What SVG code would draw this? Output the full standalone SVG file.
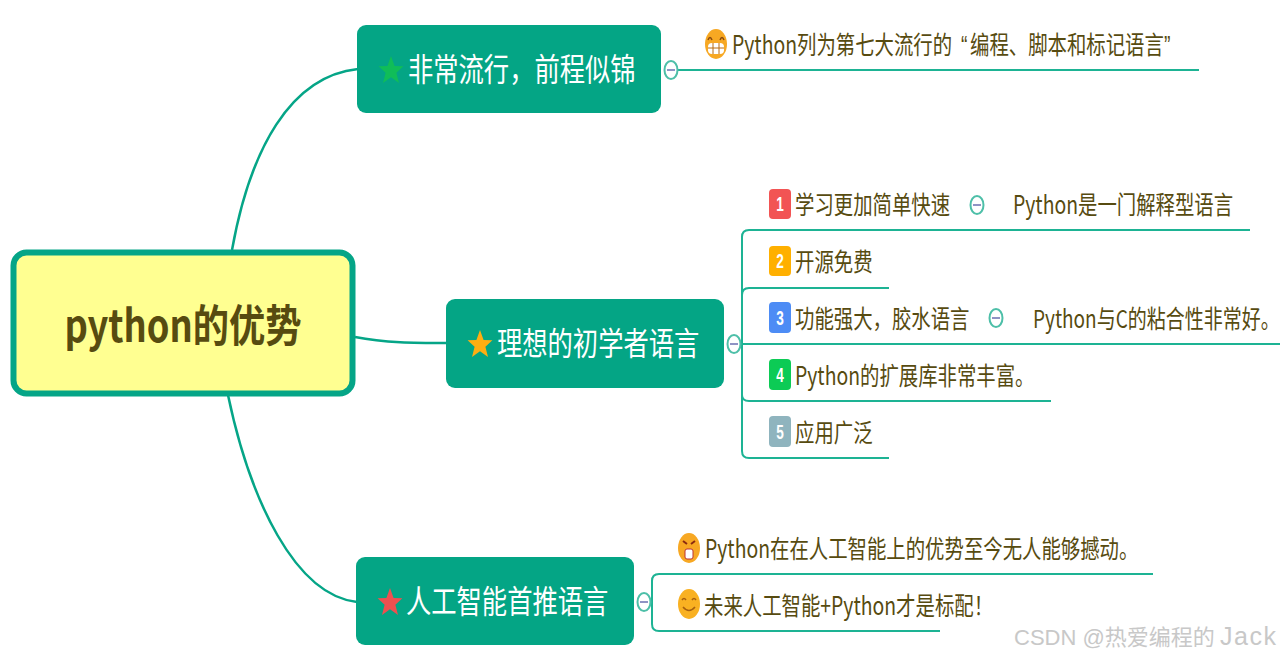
<svg xmlns="http://www.w3.org/2000/svg" width="1280" height="658" viewBox="0 0 1280 658">
<defs>
<path id="star" d="M0 -15L3.600 -5 12.400 -4.800 5.400 1.800 8 12 0 6.200 -8 12 -5.400 1.800 -12.400 -4.800 -3.600 -5Z"/>
</defs>
<style>
text{font-family:"Noto Sans CJK SC","Liberation Sans",sans-serif}
.l{fill:none;stroke:#1db394;stroke-width:2}
.b{fill:none;stroke:#05a587;stroke-width:2.500}
.box{fill:#04a585}
.t{font-size:19.400px;fill:#574b10}
.m{font-size:25.300px;fill:#fff}
.c{fill:#fff;stroke:#4dbfa8;stroke-width:2}
.d{stroke:#8f93c4;stroke-width:2}
.n{font-size:17px;font-weight:bold;fill:#fff;text-anchor:middle;font-family:"Liberation Sans",sans-serif}
</style>
<rect width="1280" height="658" fill="#fff"/>
<g id="connectors">
<path class="b" d="M232 250C250 150 290 76 358 69"/>
<path class="b" d="M355 337C385 343 415 343 447 343"/>
<path class="b" d="M228 395C250 500 295 595 357 602"/>
<path class="l" d="M677 70H1199"/>
<path class="l" d="M735 344H1280M742 344V237Q742 230 749 230H1250M742 295Q742 288 749 288H889M742 344V451Q742 458 749 458H889M742 395Q742 401 749 401H1051"/>
<path class="l" d="M650 602H652V581Q652 574 659 574H1153M652 602V624Q652 631 659 631H940"/>
</g>
<g id="root"><rect x="13.500" y="252.500" width="339" height="141" rx="13" fill="#ffff91" stroke="#05a587" stroke-width="6"/><text x="183" y="342" font-size="44" font-weight="bold" text-anchor="middle" fill="#574b10" textLength="237" lengthAdjust="spacingAndGlyphs">python的优势</text></g>
<g id="node-popular"><rect class="box" x="357" y="25" width="304" height="88" rx="9"/><use href="#star" x="391" y="71" fill="#10bd58"/><text class="m" transform="translate(408 81) scale(1 1.250)">非常流行，前程似锦</text></g>
<g id="node-beginner"><rect class="box" x="446" y="299" width="278" height="89" rx="9"/><use href="#star" x="480" y="345" fill="#ffae12"/><text class="m" transform="translate(497 355) scale(1 1.250)">理想的初学者语言</text></g>
<g id="node-ai"><rect class="box" x="356" y="557" width="278" height="88" rx="9"/><use href="#star" x="390" y="603" fill="#ee5050"/><text class="m" transform="translate(406 613) scale(1 1.250)">人工智能首推语言</text></g>
<g id="toggles">
<ellipse class="c" cx="671" cy="70" rx="6.500" ry="9"/><path class="d" d="M667 70h8"/>
<ellipse class="c" cx="734" cy="344" rx="6.500" ry="9"/><path class="d" d="M730 344h8"/>
<ellipse class="c" cx="644" cy="602" rx="6.500" ry="9"/><path class="d" d="M640 602h8"/>
<ellipse class="c" cx="977" cy="205" rx="6.500" ry="9"/><path class="d" d="M973 205h8"/>
<ellipse class="c" cx="996" cy="318" rx="6.500" ry="9"/><path class="d" d="M992 318h8"/>
</g>
<g id="topic-rank">
<ellipse cx="716" cy="44" rx="11" ry="15" fill="#f7a823"/><path d="M708 40q2-5 4 0M720 40q2-5 4 0" fill="none" stroke="#8a4a10" stroke-width="1.500"/><rect x="708" y="43" width="16" height="11" rx="4" fill="#fff"/><path d="M708 48h16M713 43v11M719 43v11" stroke="#b86a10"/>
<text class="t" transform="translate(732 54) scale(1 1.300)">Python列为第七大流行的<tspan x="229" style="font-family:'Liberation Sans',sans-serif">“</tspan><tspan x="238">编程、脚本和标记语言</tspan><tspan x="432" style="font-family:'Liberation Sans',sans-serif">”</tspan></text></g>
<g id="topic-1"><rect x="769" y="189" width="22" height="30" rx="4" fill="#f25454"/><text class="n" transform="translate(780 211) scale(.8 1.200)">1</text><text class="t" transform="translate(795 214) scale(1 1.300)">学习更加简单快速</text><text class="t" transform="translate(1013 214) scale(1 1.300)">Python是一门解释型语言</text></g>
<g id="topic-2"><rect x="769" y="246" width="22" height="30" rx="4" fill="#ffb000"/><text class="n" transform="translate(780 268) scale(.8 1.200)">2</text><text class="t" transform="translate(795 271) scale(1 1.300)">开源免费</text></g>
<g id="topic-3"><rect x="769" y="302" width="22" height="31" rx="4" fill="#4d8cf5"/><text class="n" transform="translate(780 325) scale(.8 1.200)">3</text><text class="t" transform="translate(795 328) scale(1 1.300)">功能强大，胶水语言</text><text class="t" transform="translate(1033 328) scale(1 1.300)" style="font-size:19px">Python与C的粘合性非常好。</text></g>
<g id="topic-4"><rect x="769" y="359" width="22" height="31" rx="4" fill="#0ccb55"/><text class="n" transform="translate(780 382) scale(.8 1.200)">4</text><text class="t" transform="translate(795 385) scale(1 1.300)">Python的扩展库非常丰富。</text></g>
<g id="topic-5"><rect x="769" y="416" width="22" height="31" rx="4" fill="#8fb4be"/><text class="n" transform="translate(780 439) scale(.8 1.200)">5</text><text class="t" transform="translate(795 442) scale(1 1.300)">应用广泛</text></g>
<g id="topic-ai-1"><ellipse cx="689" cy="548" rx="11" ry="15" fill="#f7a823"/><path d="M683 541l4 3M695 541l-4 3" stroke="#8a2a10" stroke-width="2"/><rect x="685" y="549" width="8" height="10" rx="2" fill="#fff" stroke="#b33"/>
<text class="t" transform="translate(705 558) scale(1 1.300)">Python在在人工智能上的优势至今无人能够撼动。</text></g>
<g id="topic-ai-2"><ellipse cx="689" cy="604" rx="11" ry="15" fill="#f9b122"/><path d="M682 600q2-3 4 0M692 600q2-3 4 0M683 607q6 7 12 0" fill="none" stroke="#a8610f" stroke-width="1.500"/>
<text class="t" transform="translate(704 615) scale(1 1.300)">未来人工智能+Python才是标配！</text></g>
<text id="watermark" x="1014" y="645" font-size="22" fill="#c8c8c8" style="font-family:'Liberation Sans','Noto Sans CJK SC',sans-serif">CSDN @热爱编程的<tspan x="1220" font-size="25" letter-spacing="1.500">Jack</tspan></text>
</svg>
